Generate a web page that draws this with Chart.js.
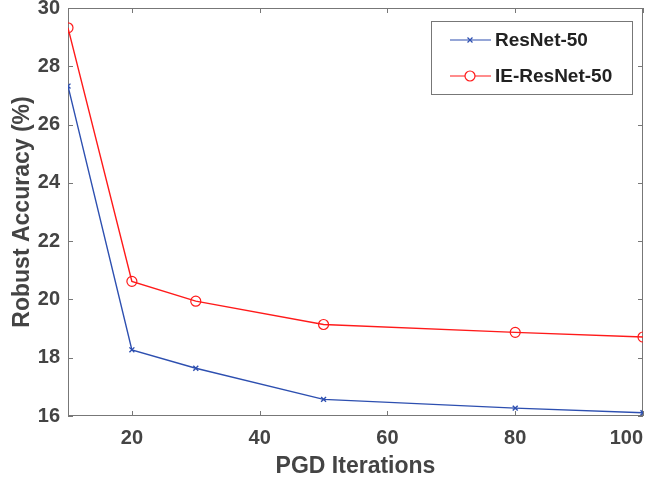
<!DOCTYPE html>
<html>
<head>
<meta charset="utf-8">
<script src="https://cdn.jsdelivr.net/npm/chart.js@4"></script>
<style>body{margin:0;background:#fff}</style>
</head>
<body>
<canvas id="robustChart" width="656" height="480"></canvas>
<script>
const iterations = [10, 20, 30, 50, 80, 100];
const resnetAcc = [27.32, 18.27, 17.64, 16.57, 16.27, 16.11];
const ieResnetAcc = [29.32, 20.62, 19.94, 19.14, 18.87, 18.71];
const xTicks = [20, 40, 60, 80, 100];
const yTicks = [16, 18, 20, 22, 24, 26, 28, 30];

const textColor = '#444';
const fontFamily = '"Liberation Sans", Arial, sans-serif';

// MATLAB style box with inward ticks, plus the boxed legend
const matlabAxes = {
  id: 'matlabAxes',
  beforeDatasetsDraw(chart) {
    const {ctx, chartArea: a, scales} = chart;
    ctx.save();
    ctx.strokeStyle = '#777';
    ctx.lineWidth = 1;
    ctx.strokeRect(a.left + 0.5, a.top + 0.5, a.right - a.left - 1, a.bottom - a.top - 1);
    const len = 5;
    ctx.beginPath();
    xTicks.forEach(v => {
      const px = Math.round(scales.x.getPixelForValue(v)) + 0.5;
      ctx.moveTo(px, a.bottom); ctx.lineTo(px, a.bottom - len);
      ctx.moveTo(px, a.top); ctx.lineTo(px, a.top + len);
    });
    yTicks.forEach(v => {
      const py = Math.round(scales.y.getPixelForValue(v)) + 0.5;
      ctx.moveTo(a.left, py); ctx.lineTo(a.left + len, py);
      ctx.moveTo(a.right, py); ctx.lineTo(a.right - len, py);
    });
    ctx.stroke();
    ctx.restore();
  },
  afterDraw(chart) {
    const ctx = chart.ctx;
    const box = {x: 431.5, y: 21.5, w: 201, h: 73};
    ctx.save();
    ctx.fillStyle = '#fff';
    ctx.fillRect(box.x, box.y, box.w, box.h);
    ctx.strokeStyle = '#777';
    ctx.lineWidth = 1;
    ctx.strokeRect(box.x, box.y, box.w, box.h);
    chart.data.datasets.forEach((ds, i) => {
      const cy = 40 + i * 36;
      ctx.strokeStyle = ds.borderColor;
      ctx.lineWidth = 1.2;
      ctx.beginPath();
      ctx.moveTo(450, cy); ctx.lineTo(491, cy);
      ctx.stroke();
      ctx.fillStyle = '#fff';
      Chart.helpers.drawPoint(ctx, {
        pointStyle: ds.pointStyle, radius: ds.pointRadius, borderWidth: 1.2
      }, 470, cy);
      ctx.fillStyle = '#222';
      ctx.font = 'bold 19px ' + fontFamily;
      ctx.textBaseline = 'middle';
      ctx.textAlign = 'left';
      ctx.fillText(ds.label, 495, cy + 1);
    });
    ctx.restore();
  }
};

new Chart(document.getElementById('robustChart'), {
  type: 'line',
  data: {
    datasets: [
      {
        label: 'ResNet-50',
        data: iterations.map((x, i) => ({x, y: resnetAcc[i]})),
        borderColor: '#2d4fb0',
        backgroundColor: '#2d4fb0',
        borderWidth: 1.4,
        pointStyle: 'crossRot',
        pointRadius: 3.5,
        pointBorderWidth: 1.4
      },
      {
        label: 'IE-ResNet-50',
        data: iterations.map((x, i) => ({x, y: ieResnetAcc[i]})),
        borderColor: '#ff1a1a',
        backgroundColor: 'rgba(0,0,0,0)',
        borderWidth: 1.4,
        pointStyle: 'circle',
        pointRadius: 5,
        pointBorderWidth: 1.2
      }
    ]
  },
  options: {
    responsive: false,
    animation: false,
    layout: {padding: {top: 8, right: 13, left: 0, bottom: 0}},
    plugins: {
      legend: {display: false},
      tooltip: {enabled: false}
    },
    scales: {
      x: {
        type: 'linear',
        min: 10,
        max: 100,
        afterBuildTicks: scale => {
          scale.ticks = [{value: 10}].concat(xTicks.map(v => ({value: v})));
        },
        afterFit: scale => { scale.height = 64; },
        grid: {display: false, drawTicks: false},
        border: {display: false},
        ticks: {
          autoSkip: false,
          maxRotation: 0,
          align: 'inner',
          padding: 10,
          color: textColor,
          font: {family: fontFamily, size: 20, weight: 'bold'},
          callback: v => v === 10 ? '' : v
        },
        title: {
          display: true,
          text: 'PGD Iterations',
          color: textColor,
          padding: {top: 0, bottom: 0},
          font: {family: fontFamily, size: 23, weight: 'bold'}
        }
      },
      y: {
        type: 'linear',
        min: 16,
        max: 30,
        afterBuildTicks: scale => {
          scale.ticks = yTicks.map(v => ({value: v}));
        },
        afterFit: scale => {
          scale.width = 68;
          scale.paddingTop = 0;
          scale.paddingBottom = 0;
        },
        grid: {display: false, drawTicks: false},
        border: {display: false},
        ticks: {
          padding: 8,
          color: textColor,
          font: {family: fontFamily, size: 20, weight: 'bold'}
        },
        title: {
          display: true,
          text: 'Robust Accuracy (%)',
          color: textColor,
          padding: {top: 9, bottom: 0},
          font: {family: fontFamily, size: 23, weight: 'bold'}
        }
      }
    }
  },
  plugins: [matlabAxes]
});
</script>
</body>
</html>
